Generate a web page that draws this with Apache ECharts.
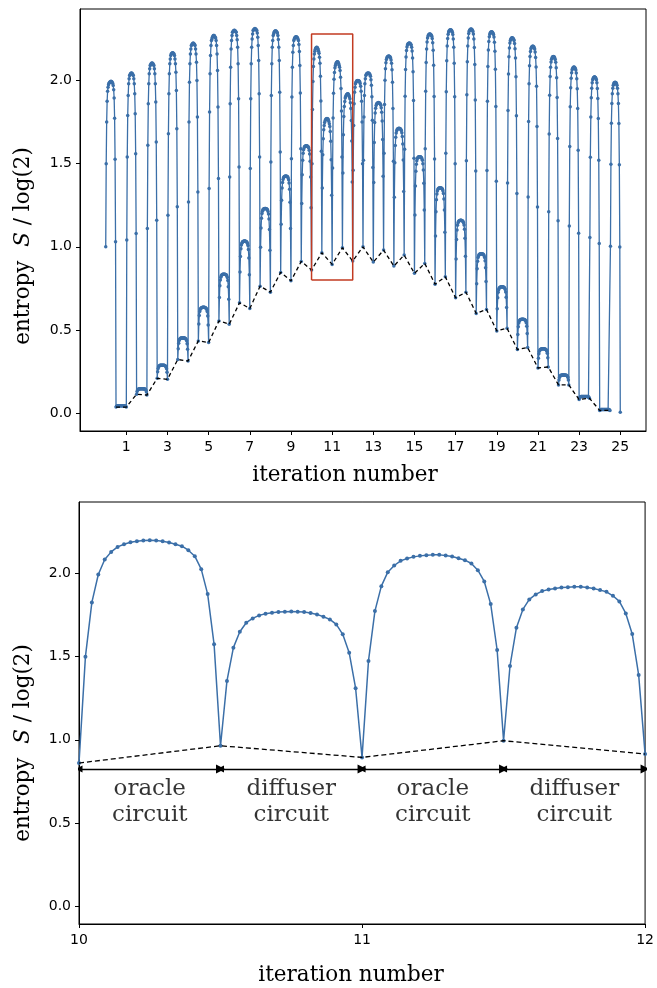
<!DOCTYPE html>
<html><head><meta charset="utf-8">
<script src="https://cdn.jsdelivr.net/npm/echarts@6/dist/echarts.min.js"></script>
<style>html,body{margin:0;padding:0;background:#fff}#c{width:657px;height:988px}</style>
</head><body><div id="c"></div>
<script>
// Entropy S/log(2) sampled 44 times per Grover iteration (22 oracle gates + 22 diffuser gates)
const iter01 = [1.0,1.5,1.75,1.875,1.935,1.96,1.975,1.983,1.988,1.991,1.993,1.995,1.994,1.992,1.988,1.982,1.97,1.945,1.894,1.773,1.526,1.03,
  0.036,0.04,0.042,0.043,0.043,0.044,0.044,0.044,0.044,0.044,0.044,0.044,0.044,0.044,0.044,0.044,0.044,0.044,0.043,0.043,0.042,0.04];
const iter02 = [0.036,1.04,1.54,1.79,1.91,1.98,2.01,2.03,2.035,2.04,2.043,2.045,2.043,2.04,2.035,2.03,2.01,1.98,1.92,1.8,1.56,1.08,
  0.113,0.13,0.138,0.142,0.144,0.145,0.145,0.146,0.146,0.146,0.146,0.146,0.146,0.146,0.146,0.146,0.145,0.145,0.144,0.141,0.137,0.127];
const iter03 = [0.108,1.11,1.61,1.86,1.98,2.04,2.07,2.09,2.095,2.1,2.103,2.105,2.103,2.1,2.095,2.09,2.07,2.04,1.98,1.87,1.63,1.16,
  0.209,0.249,0.268,0.278,0.283,0.285,0.287,0.287,0.288,0.288,0.288,0.288,0.288,0.288,0.288,0.287,0.286,0.285,0.282,0.277,0.267,0.246];
const iter04 = [0.203,1.19,1.68,1.92,2.04,2.1,2.13,2.15,2.16,2.163,2.165,2.167,2.165,2.163,2.16,2.15,2.13,2.1,2.05,1.94,1.71,1.24,
  0.322,0.387,0.42,0.436,0.444,0.447,0.45,0.451,0.451,0.452,0.452,0.452,0.452,0.452,0.451,0.451,0.449,0.447,0.443,0.435,0.417,0.383];
const iter05 = [0.313,1.27,1.75,1.99,2.1,2.16,2.19,2.21,2.215,2.22,2.223,2.225,2.223,2.22,2.216,2.21,2.19,2.16,2.11,2.0,1.78,1.33,
  0.434,0.535,0.586,0.611,0.623,0.629,0.632,0.634,0.635,0.636,0.636,0.636,0.636,0.636,0.635,0.634,0.632,0.629,0.622,0.61,0.583,0.53];
const iter06 = [0.424,1.35,1.81,2.04,2.15,2.21,2.24,2.25,2.26,2.265,2.27,2.271,2.27,2.265,2.26,2.255,2.24,2.21,2.16,2.06,1.84,1.41,
  0.554,0.695,0.765,0.8,0.817,0.825,0.83,0.832,0.834,0.834,0.835,0.835,0.835,0.834,0.833,0.832,0.83,0.824,0.815,0.797,0.76,0.685];
const iter07 = [0.534,1.42,1.86,2.08,2.19,2.24,2.27,2.29,2.293,2.298,2.3,2.302,2.3,2.298,2.293,2.29,2.27,2.245,2.2,2.1,1.89,1.48,
  0.663,0.849,0.941,0.988,1.01,1.021,1.027,1.031,1.032,1.033,1.034,1.034,1.034,1.033,1.032,1.03,1.027,1.02,1.008,0.983,0.933,0.832];
const iter08 = [0.629,1.47,1.89,2.1,2.2,2.25,2.28,2.3,2.304,2.308,2.31,2.312,2.31,2.308,2.304,2.3,2.285,2.26,2.21,2.12,1.92,1.54,
  0.763,0.997,1.113,1.172,1.2,1.214,1.222,1.226,1.228,1.229,1.23,1.23,1.23,1.229,1.227,1.225,1.221,1.212,1.197,1.167,1.104,0.979];
const iter09 = [0.727,1.51,1.91,2.1,2.2,2.24,2.27,2.28,2.29,2.295,2.297,2.298,2.297,2.295,2.29,2.285,2.27,2.247,2.2,2.12,1.93,1.57,
  0.846,1.136,1.28,1.353,1.387,1.405,1.415,1.42,1.422,1.424,1.424,1.425,1.424,1.424,1.422,1.419,1.414,1.403,1.384,1.346,1.268,1.11];
const iter10 = [0.795,1.53,1.9,2.08,2.17,2.21,2.24,2.25,2.256,2.26,2.262,2.263,2.262,2.26,2.256,2.25,2.24,2.216,2.175,2.09,1.925,1.59,
  0.912,1.26,1.433,1.52,1.562,1.583,1.594,1.601,1.604,1.606,1.606,1.607,1.606,1.606,1.603,1.6,1.594,1.581,1.558,1.514,1.42,1.234];
const iter11 = [0.86,1.5,1.826,1.994,2.084,2.13,2.16,2.176,2.188,2.194,2.198,2.2,2.198,2.194,2.186,2.176,2.164,2.14,2.104,2.026,1.876,1.574,
  0.964,1.354,1.554,1.65,1.704,1.73,1.748,1.758,1.764,1.768,1.77,1.772,1.77,1.768,1.763,1.754,1.74,1.724,1.694,1.634,1.524,1.31];
const iter12 = [0.894,1.474,1.774,1.924,2.008,2.048,2.076,2.09,2.1,2.106,2.11,2.112,2.112,2.108,2.102,2.092,2.08,2.06,2.02,1.952,1.816,1.54,
  0.994,1.444,1.674,1.784,1.844,1.874,1.894,1.904,1.91,1.916,1.918,1.92,1.92,1.916,1.91,1.9,1.89,1.866,1.832,1.76,1.636,1.39];
const iter13 = [0.914,1.46,1.73,1.86,1.93,1.96,1.98,1.99,1.995,1.998,1.999,2.0,1.999,1.998,1.995,1.991,1.982,1.965,1.935,1.875,1.75,1.5,
  1.0,1.52,1.78,1.91,1.98,2.01,2.03,2.036,2.04,2.043,2.044,2.045,2.044,2.043,2.039,2.035,2.025,2.005,1.971,1.903,1.761,1.477];
const iter14 = [0.908,1.387,1.627,1.747,1.805,1.833,1.85,1.858,1.862,1.865,1.866,1.867,1.866,1.865,1.863,1.859,1.851,1.836,1.809,1.756,1.645,1.424,
  0.98,1.563,1.855,2.001,2.071,2.106,2.126,2.137,2.141,2.145,2.146,2.147,2.146,2.144,2.141,2.136,2.124,2.103,2.065,1.989,1.831,1.515];
const iter15 = [0.884,1.298,1.506,1.609,1.659,1.684,1.698,1.706,1.709,1.711,1.712,1.713,1.712,1.711,1.709,1.706,1.699,1.686,1.663,1.618,1.522,1.332,
  0.95,1.587,1.906,2.066,2.142,2.18,2.202,2.214,2.219,2.222,2.224,2.225,2.224,2.222,2.218,2.213,2.2,2.177,2.135,2.052,1.879,1.533];
const iter16 = [0.84,1.191,1.366,1.454,1.496,1.517,1.529,1.536,1.539,1.541,1.541,1.542,1.541,1.541,1.539,1.536,1.53,1.52,1.5,1.462,1.382,1.221,
  0.9,1.59,1.935,2.108,2.19,2.232,2.255,2.268,2.273,2.277,2.279,2.28,2.278,2.277,2.272,2.266,2.253,2.227,2.182,2.092,1.904,1.528];
const iter17 = [0.775,1.065,1.21,1.283,1.317,1.335,1.345,1.35,1.352,1.354,1.354,1.355,1.354,1.354,1.352,1.35,1.345,1.336,1.32,1.288,1.221,1.087,
  0.819,1.562,1.933,2.119,2.208,2.253,2.278,2.292,2.298,2.302,2.304,2.305,2.303,2.302,2.297,2.29,2.276,2.249,2.2,2.104,1.902,1.499];
const iter18 = [0.693,0.926,1.043,1.101,1.129,1.143,1.151,1.155,1.157,1.158,1.159,1.159,1.159,1.158,1.157,1.155,1.151,1.144,1.131,1.105,1.051,0.943,
  0.727,1.518,1.914,2.112,2.207,2.255,2.282,2.296,2.302,2.307,2.308,2.31,2.308,2.307,2.301,2.295,2.279,2.25,2.199,2.096,1.882,1.455];
const iter19 = [0.599,0.778,0.868,0.913,0.935,0.945,0.952,0.955,0.956,0.957,0.958,0.958,0.958,0.957,0.956,0.955,0.952,0.946,0.936,0.916,0.874,0.791,
  0.623,1.458,1.875,2.084,2.184,2.235,2.263,2.278,2.285,2.29,2.291,2.293,2.291,2.289,2.284,2.277,2.261,2.23,2.176,2.068,1.843,1.394];
const iter20 = [0.494,0.627,0.693,0.726,0.742,0.75,0.754,0.757,0.758,0.758,0.759,0.759,0.759,0.758,0.758,0.757,0.755,0.75,0.743,0.728,0.697,0.635,
  0.51,1.383,1.82,2.039,2.143,2.196,2.226,2.241,2.248,2.254,2.255,2.257,2.255,2.253,2.248,2.24,2.223,2.191,2.135,2.023,1.788,1.32];
const iter21 = [0.382,0.473,0.519,0.541,0.552,0.558,0.561,0.562,0.563,0.564,0.564,0.564,0.564,0.564,0.563,0.562,0.561,0.558,0.553,0.543,0.522,0.479,
  0.394,1.3,1.754,1.98,2.089,2.144,2.174,2.191,2.198,2.203,2.205,2.207,2.205,2.203,2.197,2.19,2.172,2.139,2.081,1.965,1.723,1.239];
const iter22 = [0.271,0.329,0.357,0.372,0.379,0.382,0.384,0.385,0.385,0.386,0.386,0.386,0.386,0.386,0.385,0.385,0.384,0.382,0.379,0.372,0.359,0.332,
  0.277,1.211,1.678,1.912,2.024,2.08,2.111,2.128,2.136,2.141,2.143,2.145,2.143,2.141,2.135,2.127,2.109,2.076,2.017,1.898,1.651,1.157];
const iter23 = [0.169,0.199,0.214,0.222,0.225,0.227,0.228,0.228,0.229,0.229,0.229,0.229,0.229,0.229,0.229,0.228,0.228,0.227,0.225,0.222,0.214,0.199,
  0.169,1.125,1.603,1.842,1.957,2.014,2.047,2.064,2.071,2.077,2.079,2.081,2.079,2.077,2.071,2.063,2.045,2.011,1.951,1.831,1.581,1.081];
const iter24 = [0.081,0.091,0.095,0.098,0.099,0.099,0.1,0.1,0.1,0.1,0.1,0.1,0.1,0.1,0.1,0.1,0.1,0.1,0.099,0.099,0.097,0.095,
  0.089,1.055,1.539,1.78,1.896,1.954,1.987,2.005,2.012,2.018,2.02,2.022,2.02,2.018,2.012,2.004,1.987,1.952,1.892,1.771,1.52,1.019];
const iter25 = [0.016,0.019,0.021,0.021,0.022,0.022,0.022,0.022,0.022,0.022,0.022,0.022,0.022,0.022,0.022,0.022,0.022,0.022,0.022,0.021,0.021,0.019,
  0.016,1.003,1.497,1.743,1.862,1.921,1.954,1.972,1.98,1.986,1.988,1.99,1.988,1.986,1.98,1.972,1.954,1.921,1.861,1.742,1.494,0.998];
const finalStep = [0.005];

const topXTicks = [1,3,5,7,9,11,13,15,17,19,21,23,25];
const yTicks = [0,0.5,1,1.5,2];
const zoomRange = [10, 12];
const boxRange = [0.8, 2.28];
const circuitNames = ['oracle\ncircuit','diffuser\ncircuit','oracle\ncircuit','diffuser\ncircuit'];
const arrowLevel = 0.824;
const circuitTextLevel = 0.626;

const iterations = [iter01,iter02,iter03,iter04,iter05,iter06,iter07,iter08,iter09,iter10,iter11,iter12,iter13,
  iter14,iter15,iter16,iter17,iter18,iter19,iter20,iter21,iter22,iter23,iter24,iter25];
const STEPS = 44;
iterations.forEach((a,i)=>{ if(a.length!==STEPS) throw new Error('iteration '+(i+1)+' has '+a.length); });
const entropy = [].concat(...iterations, finalStep);
const points = entropy.map((v,i)=>[i/STEPS, v]);
const minima = points.filter((p,i)=> i>0 && i%(STEPS/2)===0 && i<points.length-1);
const zoomPts = points.filter(p=> p[0]>=zoomRange[0]-1e-9 && p[0]<=zoomRange[1]+1e-9);
const zoomMin = minima.filter(p=> p[0]>=zoomRange[0]-1e-9 && p[0]<=zoomRange[1]+1e-9);
const halves = [];
for(let i=0;i<circuitNames.length;i++) halves.push([zoomRange[0]+i*0.5, zoomRange[0]+(i+1)*0.5]);

const BLUE = '#3b6fa8';
const tickFont = {fontFamily:'DejaVu Sans', fontSize:14, color:'#000'};
const serif = 'DejaVu Serif';

function yAxisCfg(gi){
  return {type:'value', gridIndex:gi, min:-0.108, max:2.43,
    axisLine:{show:true, onZero:false, lineStyle:{color:'#000', width:1}},
    axisTick:{show:true, length:4, lineStyle:{color:'#000'}, customValues:yTicks},
    axisLabel:Object.assign({margin:8, customValues:yTicks, formatter:v=>v.toFixed(1)}, tickFont),
    splitLine:{show:false}};
}

const chart = echarts.init(document.getElementById('c'), null, {renderer:'canvas'});
chart.setOption({
  animation:false,
  backgroundColor:'#fff',
  grid:[
    {left:80, top:9, width:566, height:422, show:true, borderColor:'#000', borderWidth:1},
    {left:79, top:502, width:567, height:422, show:true, borderColor:'#000', borderWidth:1}
  ],
  xAxis:[
    {type:'value', gridIndex:0, min:-1.25, max:26.25,
      axisLine:{show:true, onZero:false, lineStyle:{color:'#000'}},
      axisTick:{show:true, length:4, lineStyle:{color:'#000'}, customValues:topXTicks},
      axisLabel:Object.assign({margin:9, customValues:topXTicks}, tickFont),
      splitLine:{show:false}},
    {type:'value', gridIndex:1, min:zoomRange[0], max:zoomRange[1], interval:1,
      axisLine:{show:true, onZero:false, lineStyle:{color:'#000'}},
      axisTick:{show:true, length:4, lineStyle:{color:'#000'}},
      axisLabel:Object.assign({margin:9, showMinLabel:true, showMaxLabel:true}, tickFont),
      splitLine:{show:false}}
  ],
  yAxis:[yAxisCfg(0), yAxisCfg(1)],
  graphic:[
    {type:'text', x:23.5, y:246, rotation:Math.PI/2, style:{text:'{a|entropy  }{b|S}{a| / log(2)}', align:'center', verticalAlign:'middle',
      rich:{a:{fontFamily:serif, fontSize:21.5, fill:'#000'}, b:{fontFamily:serif, fontStyle:'italic', fontSize:21.5, fill:'#000'}}}},
    {type:'text', x:23.5, y:743, rotation:Math.PI/2, style:{text:'{a|entropy  }{b|S}{a| / log(2)}', align:'center', verticalAlign:'middle',
      rich:{a:{fontFamily:serif, fontSize:21.5, fill:'#000'}, b:{fontFamily:serif, fontStyle:'italic', fontSize:21.5, fill:'#000'}}}},
    {type:'text', x:345, y:475, style:{text:'iteration number', fontFamily:serif, fontSize:21.5, fill:'#000', align:'center', verticalAlign:'middle'}},
    {type:'text', x:351, y:975, style:{text:'iteration number', fontFamily:serif, fontSize:21.5, fill:'#000', align:'center', verticalAlign:'middle'}}
  ],
  series:[
    {type:'line', xAxisIndex:0, yAxisIndex:0, data:points, symbol:'circle', symbolSize:3.5, showSymbol:true,
      lineStyle:{color:BLUE, width:1.3}, itemStyle:{color:BLUE}, z:2},
    {type:'line', xAxisIndex:0, yAxisIndex:0, data:minima, symbol:'none',
      lineStyle:{color:'#000', width:1.3, type:[4,3]}, z:3},
    {type:'line', xAxisIndex:0, yAxisIndex:0, symbol:'none',
      data:[[zoomRange[0],boxRange[0]],[zoomRange[1],boxRange[0]],[zoomRange[1],boxRange[1]],[zoomRange[0],boxRange[1]],[zoomRange[0],boxRange[0]]],
      lineStyle:{color:'#c23b22', width:1.5}, z:4},
    {type:'line', xAxisIndex:1, yAxisIndex:1, data:zoomPts, symbol:'circle', symbolSize:4, showSymbol:true,
      lineStyle:{color:BLUE, width:1.5}, itemStyle:{color:BLUE}, z:2},
    {type:'line', xAxisIndex:1, yAxisIndex:1, data:zoomMin, symbol:'none',
      lineStyle:{color:'#000', width:1.3, type:[5,3]}, z:3},
    {type:'lines', coordinateSystem:'cartesian2d', xAxisIndex:1, yAxisIndex:1,
      symbol:['triangle','triangle'], symbolSize:[7,9],
      lineStyle:{color:'#000', width:1.3, opacity:1}, itemStyle:{color:'#000'},
      data:halves.map(h=>({coords:[[h[0],arrowLevel],[h[1],arrowLevel]]})), z:5},
    {type:'scatter', xAxisIndex:1, yAxisIndex:1, symbolSize:1, itemStyle:{color:'rgba(0,0,0,0)'}, silent:true,
      data:halves.map((h,i)=>({name:circuitNames[i], value:[(h[0]+h[1])/2, circuitTextLevel]})),
      label:{show:true, position:'inside', formatter:p=>p.name, fontFamily:serif, fontSize:23, lineHeight:26, color:'#000'}, z:5}
  ]
});
</script></body></html>
